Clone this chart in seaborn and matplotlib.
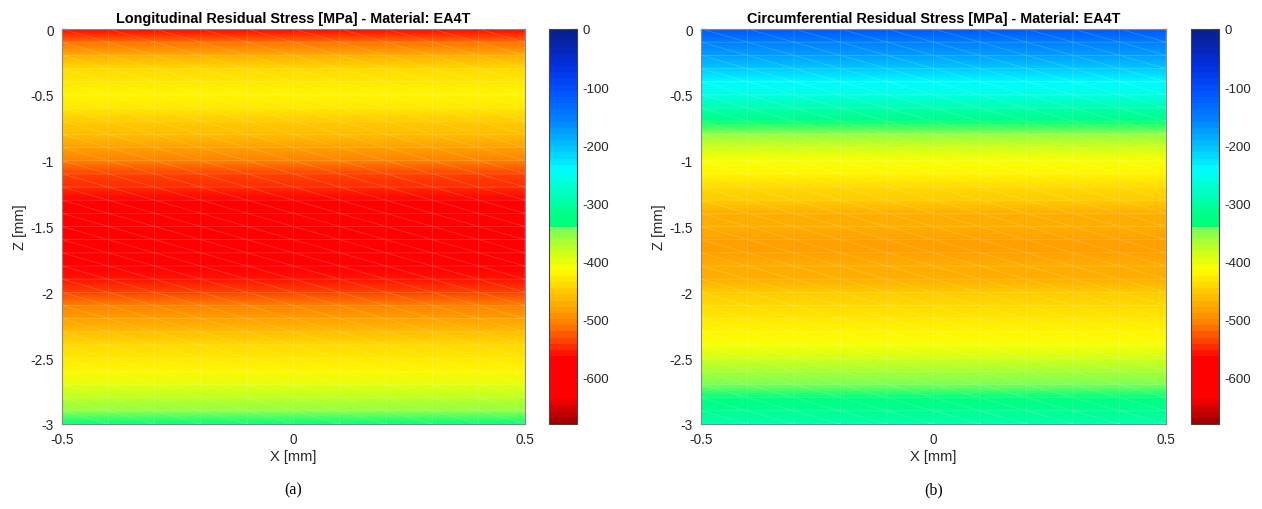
import numpy as np
import matplotlib
matplotlib.use("Agg")
import matplotlib.pyplot as plt
import matplotlib.tri as mtri
from matplotlib.colors import LinearSegmentedColormap, ListedColormap, Normalize
import seaborn as sns

# ---------------- data ----------------
x_nodes = [-0.5, -0.4, -0.3, -0.2, -0.1, 0.0, 0.1, 0.2, 0.3, 0.4, 0.5]
z_nodes = [0.0, -0.1, -0.2, -0.3, -0.4, -0.5, -0.6, -0.7, -0.8, -0.9, -1.0,
           -1.1, -1.2, -1.3, -1.4, -1.5, -1.6, -1.7, -1.8, -1.9, -2.0,
           -2.1, -2.2, -2.3, -2.4, -2.5, -2.6, -2.7, -2.8, -2.9, -3.0]
longitudinal = [-605, -520, -473, -442, -428, -424, -430, -448, -462, -485, -508,
                -532, -552, -575, -595, -605, -608, -600, -585, -558, -535,
                -510, -485, -462, -445, -428, -415, -397, -377, -352, -322]
circumferential = [-115, -150, -180, -205, -235, -265, -295, -330, -360, -385, -405,
                   -425, -440, -455, -468, -478, -485, -485, -478, -468, -455,
                   -442, -430, -420, -405, -385, -365, -345, -325, -310, -295]
titles = ["Longitudinal Residual Stress [MPa] - Material: EA4T",
          "Circumferential Residual Stress [MPa] - Material: EA4T"]
captions = ["(a)", "(b)"]
x_ticks = [-0.5, 0, 0.5]
x_ticklabels = ["-0.5", "0", "0.5"]
z_ticks = [0, -0.5, -1, -1.5, -2, -2.5, -3]
z_ticklabels = ["0", "-0.5", "-1", "-1.5", "-2", "-2.5", "-3"]
cb_ticks = [0, -100, -200, -300, -400, -500, -600]
cb_ticklabels = ["0", "-100", "-200", "-300", "-400", "-500", "-600"]
vmin, vmax = -680, 0

# colormap anchors (value, colour)
cmap_vals = [-680, -660, -640, -570, -550, -520, -485, -450, -415, -380, -341, -339,
             -320, -280, -240, -200, -150, -100, -60, 0]
cmap_cols = ["#a00000", "#d00000", "#ff0000", "#ff0000", "#ff3000", "#ff7000",
             "#ffa000", "#ffd000", "#ffff00", "#c0ff20", "#70ff60", "#00ff80",
             "#00ff80", "#00ffc0", "#00ffff", "#00c0ff", "#0080ff", "#0050ff",
             "#0030e0", "#0a1f8f"]

# ---------------- style ----------------
sns.set_theme(style="white")
plt.rcParams["font.family"] = ["Liberation Sans", "DejaVu Sans"]
plt.rcParams["axes.unicode_minus"] = False

pos = (np.array(cmap_vals) - vmin) / (vmax - vmin)
smooth = LinearSegmentedColormap.from_list("stress", list(zip(pos, cmap_cols)))
cmap = ListedColormap(smooth(np.linspace(0, 1, 64)))
norm = Normalize(vmin=vmin, vmax=vmax)

# mesh
X, Z = np.meshgrid(x_nodes, z_nodes)
nx, nz = len(x_nodes), len(z_nodes)
tris = []
for j in range(nz - 1):
    for i in range(nx - 1):
        a = j * nx + i
        b = j * nx + i + 1
        c = (j + 1) * nx + i
        d = (j + 1) * nx + i + 1
        tris.append([a, b, d])
        tris.append([a, d, c])
tri = mtri.Triangulation(X.ravel(), Z.ravel(), np.array(tris))

fig = plt.figure(figsize=(12.62, 5.10), dpi=100)
fig.patch.set_facecolor("white")

ax_rects = [[62 / 1262, 85 / 510, 463 / 1262, 395 / 510],
            [701 / 1262, 85 / 510, 465 / 1262, 395 / 510]]
cb_rects = [[549 / 1262, 85 / 510, 28 / 1262, 395 / 510],
            [1191 / 1262, 85 / 510, 28 / 1262, 395 / 510]]

for k, profile in enumerate([longitudinal, circumferential]):
    vals = np.repeat(np.array(profile, dtype=float)[:, None], nx, axis=1).ravel()
    ax = fig.add_axes(ax_rects[k])
    tpc = ax.tripcolor(tri, vals, shading="gouraud", cmap=cmap, norm=norm)
    ax.triplot(tri, color="white", alpha=0.22, lw=0.5)
    ax.set_xlim(-0.5, 0.5)
    ax.set_ylim(-3, 0)
    ax.set_xticks(x_ticks)
    ax.set_xticklabels(x_ticklabels)
    ax.set_yticks(z_ticks)
    ax.set_yticklabels(z_ticklabels)
    ax.tick_params(direction="in", length=4, width=0.8, colors="#262626",
                   labelsize=9.8, labelcolor="#262626", pad=6,
                   bottom=True, left=True, top=True, right=True)
    for sp in ax.spines.values():
        sp.set_color("#888888")
        sp.set_linewidth(0.8)
    ax.set_xlabel("X [mm]", fontsize=10.5, color="#262626", labelpad=2)
    ax.set_ylabel("Z [mm]", fontsize=10.5, color="#262626", labelpad=2)
    ax.set_title(titles[k], fontsize=10.4, fontweight="bold", color="black", pad=5)

    cax = fig.add_axes(cb_rects[k])
    cb = fig.colorbar(tpc, cax=cax)
    cb.set_ticks(cb_ticks)
    cb.set_ticklabels(cb_ticklabels)
    cb.ax.tick_params(direction="in", length=4, width=0.8, colors="#262626",
                      labelsize=9.5, labelcolor="#262626", pad=4)
    cb.outline.set_edgecolor("#444444")
    cb.outline.set_linewidth(0.8)

    cx = (ax_rects[k][0] + ax_rects[k][2] / 2)
    fig.text(cx, 1 - 490 / 510, captions[k], ha="center", va="center",
             fontsize=11.5, family=["Liberation Serif", "DejaVu Serif"], color="black")

fig.savefig("out.png", dpi=100, facecolor="white")
